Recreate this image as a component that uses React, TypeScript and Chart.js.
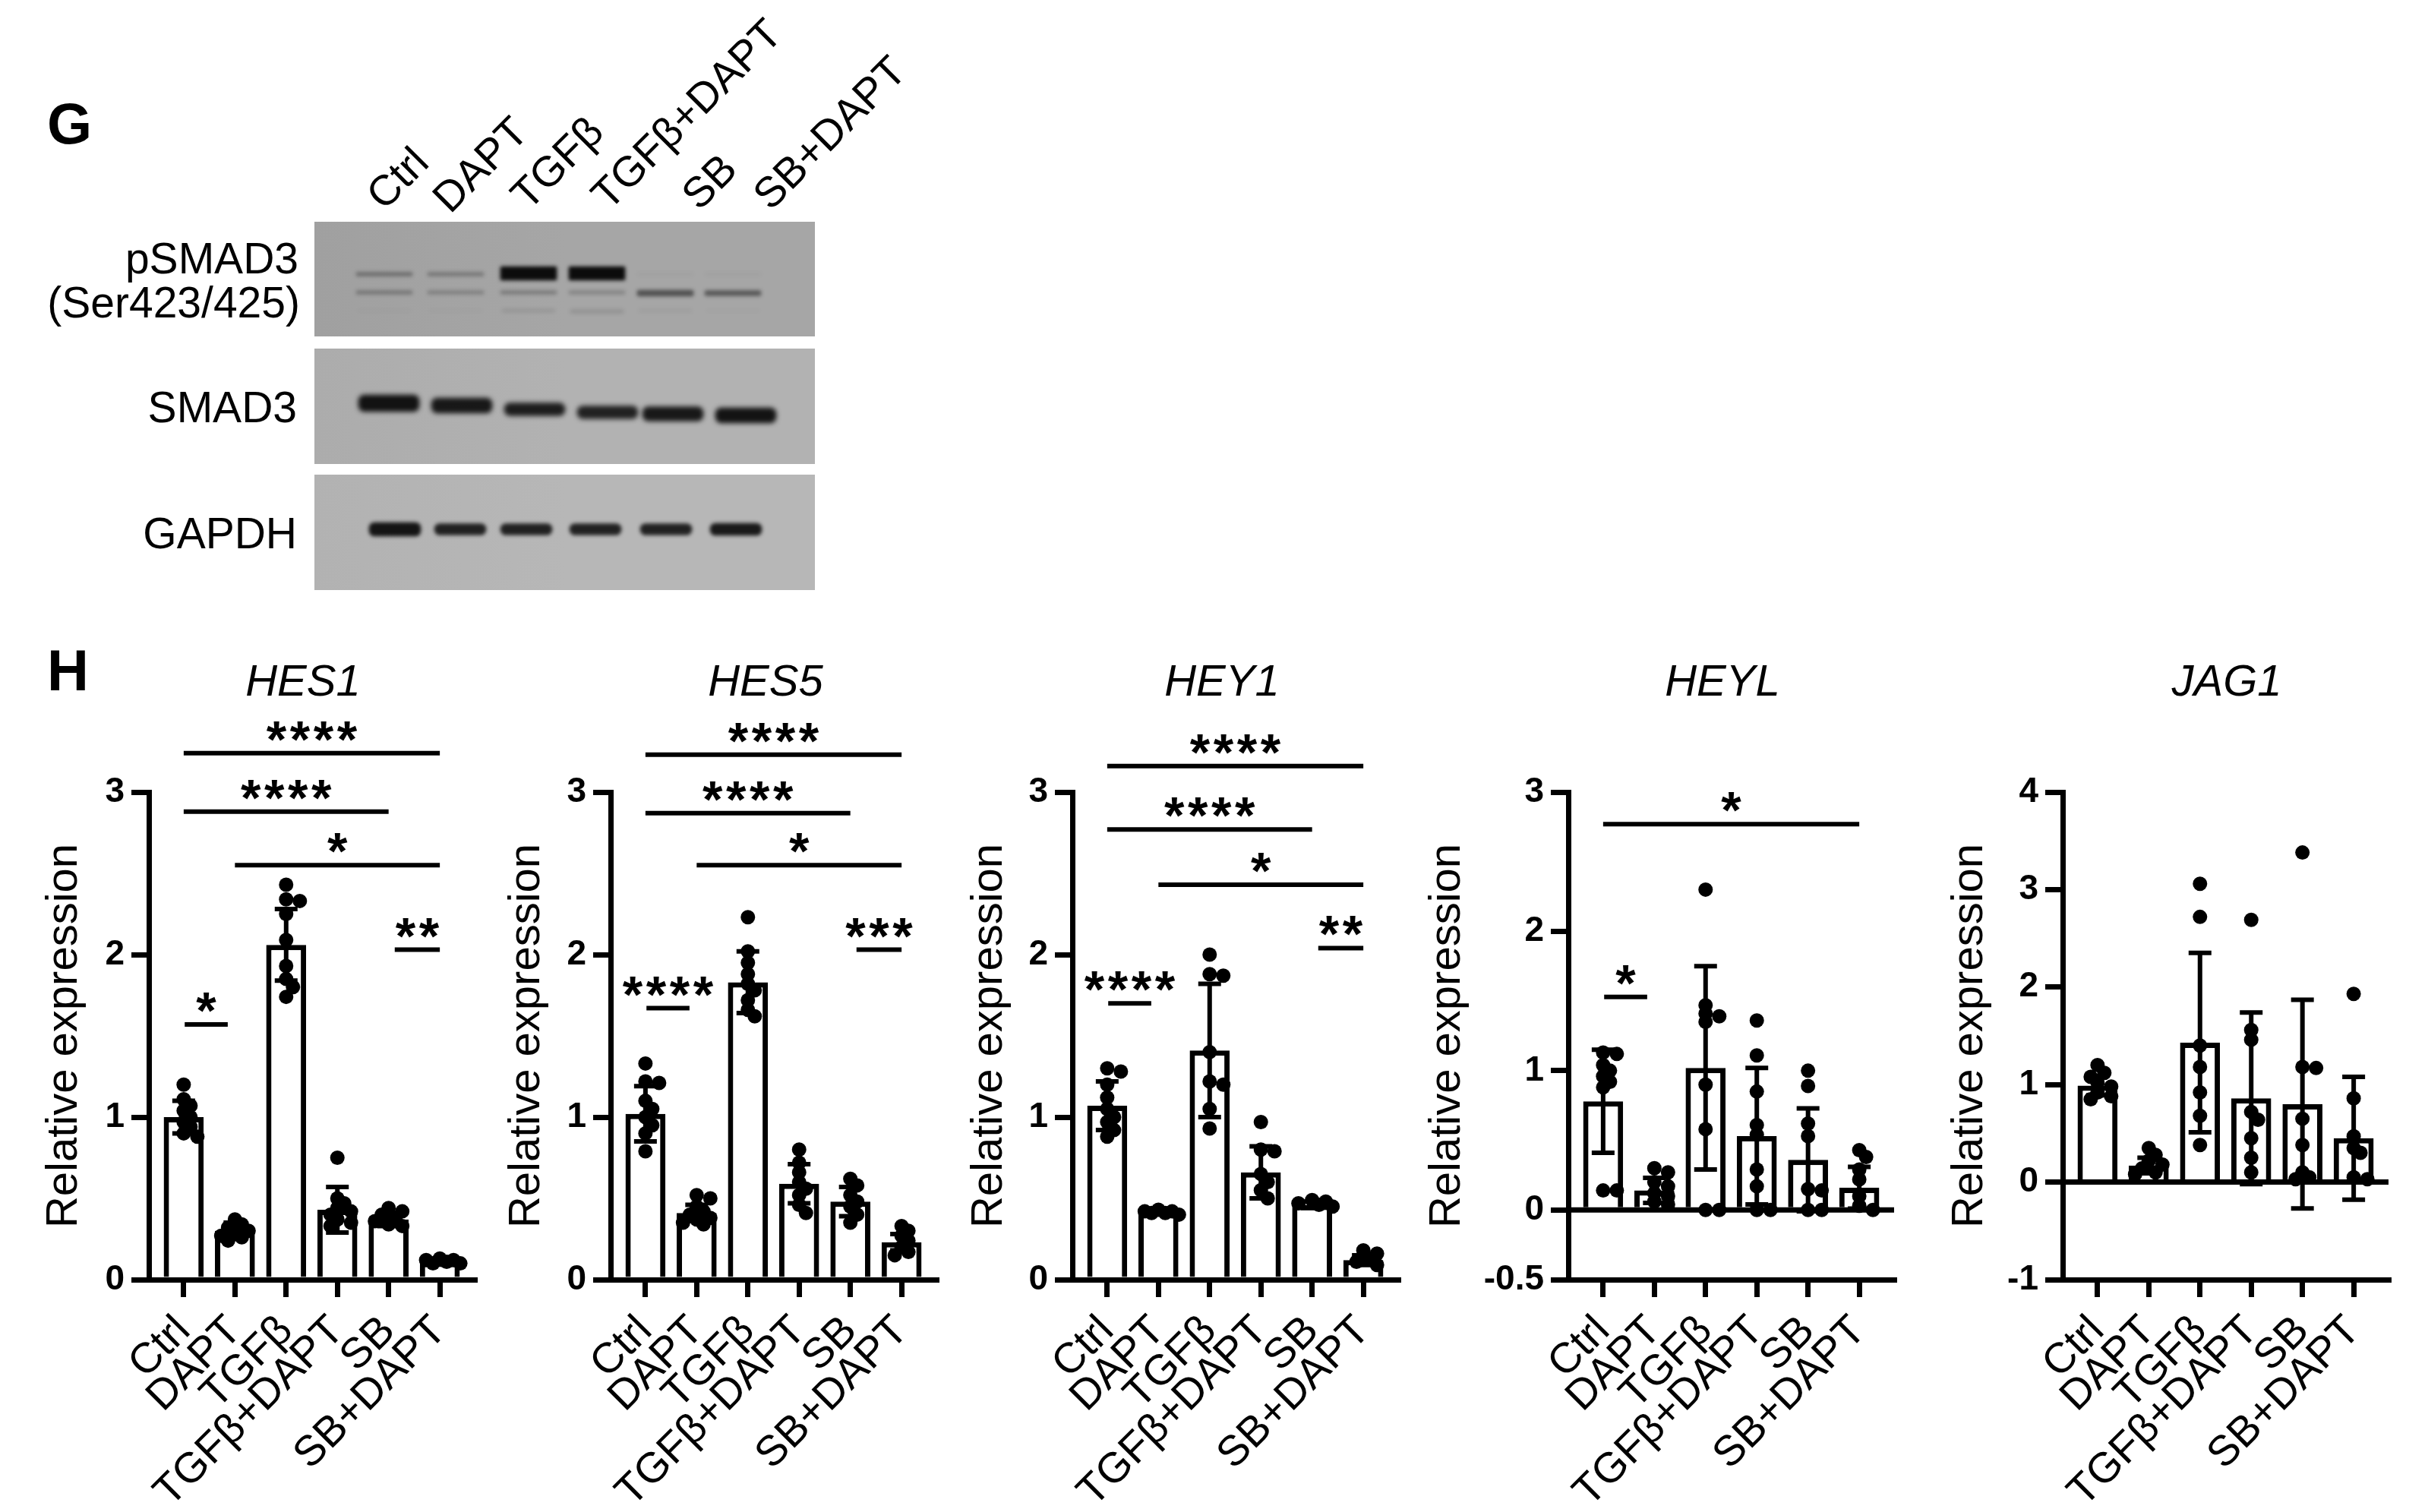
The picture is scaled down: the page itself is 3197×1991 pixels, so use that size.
import React, { useEffect, useRef } from 'react';
import { Chart, registerables } from 'chart.js';

Chart.register(...registerables);

const FONT = '"Liberation Sans", Arial, Helvetica, sans-serif';
Chart.defaults.font.family = FONT;

// ---------------- categories ----------------
const GROUPS = ['Ctrl', 'DAPT', 'TGFβ', 'TGFβ+DAPT', 'SB', 'SB+DAPT'];

// ---------------- H: HES1 ----------------
const hes1Mean = [1.0, 0.3, 2.06, 0.43, 0.37, 0.11];
const hes1Sd = [0.1, 0.05, 0.22, 0.14, 0.04, 0.015];
const hes1Points = [
  [1.2, 1.11, 1.07, 1.04, 1.0, 0.97, 0.94, 0.9, 0.88],
  [0.37, 0.34, 0.32, 0.3, 0.29, 0.27, 0.26, 0.24],
  [2.43, 2.34, 2.33, 2.25, 2.09, 1.93, 1.85, 1.8, 1.74],
  [0.75, 0.5, 0.47, 0.44, 0.42, 0.4, 0.37, 0.35, 0.33],
  [0.44, 0.42, 0.4, 0.38, 0.36, 0.34, 0.33],
  [0.13, 0.12, 0.12, 0.11, 0.1, 0.1],
];
const hes1SigFrom = [0, 0, 1, 4.12, 0.02];
const hes1SigTo = [5, 4, 5, 5, 0.86];
const hes1SigY = [3.24, 2.88, 2.55, 2.03, 1.57];
const hes1SigText = ['****', '****', '*', '**', '*'];
const hes1Ticks = [0, 1, 2, 3];

// ---------------- H: HES5 ----------------
const hes5Mean = [1.02, 0.41, 1.83, 0.59, 0.48, 0.23];
const hes5Sd = [0.17, 0.05, 0.19, 0.12, 0.09, 0.05];
const hes5Points = [
  [1.33, 1.22, 1.21, 1.1, 1.05, 1.0, 0.95, 0.9, 0.79],
  [0.52, 0.5, 0.45, 0.42, 0.4, 0.38, 0.37, 0.35, 0.34],
  [2.23, 2.02, 1.95, 1.88, 1.82, 1.78, 1.72, 1.66, 1.62],
  [0.8, 0.72, 0.66, 0.6, 0.56, 0.52, 0.46, 0.41],
  [0.62, 0.58, 0.52, 0.48, 0.45, 0.4, 0.35],
  [0.33, 0.3, 0.27, 0.24, 0.2, 0.17, 0.15],
];
const hes5SigFrom = [0, 0, 1, 4.12, 0.02];
const hes5SigTo = [5, 4, 5, 5, 0.86];
const hes5SigY = [3.23, 2.87, 2.55, 2.03, 1.67];
const hes5SigText = ['****', '****', '*', '***', '****'];
const hes5Ticks = [0, 1, 2, 3];

// ---------------- H: HEY1 ----------------
const hey1Mean = [1.07, 0.42, 1.41, 0.66, 0.46, 0.12];
const hey1Sd = [0.15, 0.01, 0.41, 0.16, 0.02, 0.03];
const hey1Points = [
  [1.3, 1.28, 1.2, 1.12, 1.05, 1.0, 0.97, 0.92, 0.88],
  [0.43, 0.42, 0.42, 0.41, 0.41, 0.4],
  [2.0, 1.88, 1.87, 1.4, 1.22, 1.2, 1.05, 0.93],
  [0.97, 0.8, 0.79, 0.65, 0.6, 0.55, 0.5],
  [0.49, 0.48, 0.47, 0.46, 0.45],
  [0.18, 0.16, 0.13, 0.11, 0.09],
];
const hey1SigFrom = [0, 0, 1, 4.12, 0.02];
const hey1SigTo = [5, 4, 5, 5, 0.86];
const hey1SigY = [3.16, 2.77, 2.43, 2.04, 1.7];
const hey1SigText = ['****', '****', '*', '**', '****'];
const hey1Ticks = [0, 1, 2, 3];

// ---------------- H: HEYL ----------------
const heylMean = [0.78, 0.14, 1.02, 0.53, 0.36, 0.16];
const heylSd = [0.37, 0.09, 0.73, 0.49, 0.37, 0.15];
const heylPoints = [
  [1.13, 1.12, 1.04, 1.0, 0.96, 0.92, 0.88, 0.14, 0.14],
  [0.3, 0.27, 0.2, 0.17, 0.12, 0.1, 0.06, 0.04],
  [2.3, 1.47, 1.41, 1.39, 1.35, 0.9, 0.58, 0.0, 0.0],
  [1.36, 1.11, 0.85, 0.61, 0.54, 0.29, 0.17, 0.0, 0.0],
  [1.0, 0.89, 0.62, 0.53, 0.15, 0.14, 0.0, 0.0],
  [0.43, 0.38, 0.29, 0.22, 0.1, 0.03, 0.0],
];
const heylSigFrom = [0, 0.02];
const heylSigTo = [5, 0.86];
const heylSigY = [2.77, 1.53];
const heylSigText = ['*', '*'];
const heylTicks = [-0.5, 0, 1, 2, 3];

// ---------------- H: JAG1 ----------------
const jag1Mean = [0.99, 0.17, 1.43, 0.86, 0.8, 0.45];
const jag1Sd = [0.1, 0.08, 0.92, 0.88, 1.07, 0.63];
const jag1Points = [
  [1.2, 1.12, 1.08, 1.02, 0.98, 0.92, 0.88, 0.85],
  [0.35, 0.28, 0.22, 0.18, 0.14, 0.1, 0.08],
  [3.06, 2.72, 1.4, 1.18, 0.92, 0.68, 0.38],
  [2.69, 1.56, 1.46, 0.72, 0.64, 0.45, 0.25, 0.1],
  [3.38, 1.18, 1.17, 0.65, 0.38, 0.1, 0.05, 0.03],
  [1.93, 0.86, 0.47, 0.35, 0.3, 0.05, 0.03],
];
const jag1Ticks = [-1, 0, 1, 2, 3, 4];

// ---------------- G: western blot band intensities ----------------
const pSmadUpper = [0.36, 0.3, 1.0, 1.0, 0.03, 0.03];
const pSmadLower = [0.3, 0.24, 0.28, 0.22, 0.55, 0.5];
const pSmadMinor = [0.02, 0.02, 0.1, 0.13, 0.05, 0.02];
const smad3Band = [0.97, 0.93, 0.9, 0.88, 0.93, 0.96];
const gapdhBand = [0.95, 0.88, 0.88, 0.88, 0.88, 0.92];

// ---------------- layout ----------------
const CANVAS_TOP = 900;
const PLOT_TOP = 1043;
const PLOT_BOTTOM = 1685;
const PAGE_H = 1991;
const PLOT_W = 429;
const RIGHT_PAD = 40;
const X_MIN = -0.68;
const X_MAX = 5.68;
const DOT_R = 9.5;
const LINE_W = 7;

type GenePanel = {
  name: string;
  mean: number[];
  sd: number[];
  points: number[][];
  yMin: number;
  yMax: number;
  yTicks: number[];
  sigFrom: number[];
  sigTo: number[];
  sigY: number[];
  sigText: string[];
  zeroLine: boolean;
  axisX: number;
  yW: number;
  titleX: number;
};

const PANELS: GenePanel[] = [
  { name: 'HES1', mean: hes1Mean, sd: hes1Sd, points: hes1Points, yMin: 0, yMax: 3, yTicks: hes1Ticks,
    sigFrom: hes1SigFrom, sigTo: hes1SigTo, sigY: hes1SigY, sigText: hes1SigText, zeroLine: false,
    axisX: 196, yW: 146, titleX: 399 },
  { name: 'HES5', mean: hes5Mean, sd: hes5Sd, points: hes5Points, yMin: 0, yMax: 3, yTicks: hes5Ticks,
    sigFrom: hes5SigFrom, sigTo: hes5SigTo, sigY: hes5SigY, sigText: hes5SigText, zeroLine: false,
    axisX: 804, yW: 145, titleX: 1008 },
  { name: 'HEY1', mean: hey1Mean, sd: hey1Sd, points: hey1Points, yMin: 0, yMax: 3, yTicks: hey1Ticks,
    sigFrom: hey1SigFrom, sigTo: hey1SigTo, sigY: hey1SigY, sigText: hey1SigText, zeroLine: false,
    axisX: 1412, yW: 144, titleX: 1609 },
  { name: 'HEYL', mean: heylMean, sd: heylSd, points: heylPoints, yMin: -0.5, yMax: 3, yTicks: heylTicks,
    sigFrom: heylSigFrom, sigTo: heylSigTo, sigY: heylSigY, sigText: heylSigText, zeroLine: true,
    axisX: 2065, yW: 194, titleX: 2268 },
  { name: 'JAG1', mean: jag1Mean, sd: jag1Sd, points: jag1Points, yMin: -1, yMax: 4, yTicks: jag1Ticks,
    sigFrom: [], sigTo: [], sigY: [], sigText: [], zeroLine: true,
    axisX: 2716, yW: 157, titleX: 2932 },
];

// deterministic dot layout (GraphPad-like overlapping scatter) in pixel space
function swarm(vals: number[], pyu: number, pxu: number): number[] {
  const step = 9;
  const minDist = 11;
  const placed: { x: number; y: number }[] = [];
  const out: number[] = [];
  for (const v of vals) {
    const y = v * pyu;
    let chosen = 0;
    let bestScore = -1;
    for (let k = 0; k < 7; k++) {
      const cand = k === 0 ? 0 : (k % 2 ? 1 : -1) * Math.ceil(k / 2) * step;
      let md = Infinity;
      for (const p of placed) md = Math.min(md, Math.hypot(p.x - cand, p.y - y));
      if (md >= minDist) {
        chosen = cand;
        bestScore = Infinity;
        break;
      }
      if (md > bestScore) {
        bestScore = md;
        chosen = cand;
      }
    }
    placed.push({ x: chosen, y });
    out.push(chosen / pxu);
  }
  return out;
}

function GeneChart({ p }: { p: GenePanel }) {
  const ref = useRef<HTMLCanvasElement>(null);
  const width = p.yW + PLOT_W + RIGHT_PAD;
  const height = PAGE_H - CANVAS_TOP;

  useEffect(() => {
    const pyu = (PLOT_BOTTOM - PLOT_TOP) / (p.yMax - p.yMin);
    const pxu = PLOT_W / (X_MAX - X_MIN);
    const scatter: { x: number; y: number }[] = [];
    p.points.forEach((vals, i) => {
      const offs = swarm(vals, pyu, pxu);
      vals.forEach((v, k) => scatter.push({ x: i + offs[k], y: v }));
    });

    const deco = {
      id: 'deco',
      afterDatasetDraw(chart: any, args: any) {
        if (args.meta.type !== 'bar') return;
        const { ctx, chartArea, scales } = chart;
        const xs = scales.x;
        const ys = scales.y;
        ctx.save();
        ctx.strokeStyle = '#000';
        ctx.lineCap = 'butt';
        if (p.zeroLine) {
          const y0 = ys.getPixelForValue(0);
          ctx.lineWidth = LINE_W;
          ctx.beginPath();
          ctx.moveTo(chartArea.left, y0);
          ctx.lineTo(chartArea.right, y0);
          ctx.stroke();
        }
        ctx.lineWidth = 6;
        p.mean.forEach((m, i) => {
          const x = xs.getPixelForValue(i);
          const yt = ys.getPixelForValue(m + p.sd[i]);
          const yb = ys.getPixelForValue(m - p.sd[i]);
          ctx.beginPath();
          ctx.moveTo(x, yt);
          ctx.lineTo(x, yb);
          ctx.moveTo(x - 15, yt);
          ctx.lineTo(x + 15, yt);
          ctx.moveTo(x - 15, yb);
          ctx.lineTo(x + 15, yb);
          ctx.stroke();
        });
        ctx.restore();
      },
      afterDraw(chart: any) {
        const { ctx, scales } = chart;
        const xs = scales.x;
        const ys = scales.y;
        ctx.save();
        ctx.strokeStyle = '#000';
        ctx.fillStyle = '#000';
        ctx.lineWidth = 6;
        ctx.font = `bold 68px ${FONT}`;
        ctx.textAlign = 'center';
        ctx.textBaseline = 'alphabetic';
        p.sigY.forEach((sy, k) => {
          const x1 = xs.getPixelForValue(p.sigFrom[k]);
          const x2 = xs.getPixelForValue(p.sigTo[k]);
          const y = ys.getPixelForValue(sy);
          ctx.beginPath();
          ctx.moveTo(x1, y);
          ctx.lineTo(x2, y);
          ctx.stroke();
          const txt = p.sigText[k];
          const n = txt.length;
          const cx = (x1 + x2) / 2;
          for (let j = 0; j < n; j++) {
            ctx.fillText('*', cx + (j - (n - 1) / 2) * 31, y + 5);
          }
        });
        ctx.restore();
      },
    };

    const chart = new Chart(ref.current as HTMLCanvasElement, {
      type: 'bar',
      data: {
        datasets: [
          {
            type: 'bar',
            data: p.mean.map((m, i) => ({ x: i, y: m })),
            backgroundColor: '#ffffff',
            borderColor: '#000000',
            borderWidth: 7,
            barPercentage: 0.78,
            categoryPercentage: 1,
            order: 2,
          } as any,
          {
            type: 'scatter',
            data: scatter,
            pointRadius: DOT_R,
            pointHoverRadius: DOT_R,
            backgroundColor: '#000000',
            borderWidth: 0,
            order: 1,
            clip: false,
          } as any,
        ],
      },
      options: {
        animation: false,
        responsive: false,
        devicePixelRatio: 1,
        events: [],
        layout: { padding: { top: PLOT_TOP - CANVAS_TOP, right: RIGHT_PAD, left: 0, bottom: 0 } },
        plugins: { legend: { display: false }, tooltip: { enabled: false }, title: { display: false } },
        scales: {
          x: {
            type: 'linear',
            min: X_MIN,
            max: X_MAX,
            offset: false,
            z: 1,
            afterBuildTicks: (s: any) => {
              s.ticks = GROUPS.map((_, i) => ({ value: i }));
            },
            afterFit: (s: any) => {
              s.height = PAGE_H - PLOT_BOTTOM;
            },
            ticks: {
              autoSkip: false,
              minRotation: 45,
              maxRotation: 45,
              padding: 16,
              color: '#000',
              font: { family: FONT, size: 56, lineHeight: 1 },
              callback: (v: any) => GROUPS[v] ?? '',
            },
            grid: { display: true, offset: false, drawOnChartArea: false, drawTicks: true, tickLength: 23, lineWidth: LINE_W, color: '#000' },
            border: { display: true, width: LINE_W, color: '#000' },
          },
          y: {
            type: 'linear',
            min: p.yMin,
            max: p.yMax,
            z: 1,
            afterBuildTicks: (s: any) => {
              s.ticks = p.yTicks.map((v) => ({ value: v }));
            },
            afterFit: (s: any) => {
              s.width = p.yW;
            },
            ticks: { padding: 9, color: '#000', font: { family: FONT, size: 46, weight: 'bold' }, callback: (v: any) => String(v) },
            grid: { display: true, drawOnChartArea: false, drawTicks: true, tickLength: 23, lineWidth: LINE_W, color: '#000' },
            border: { display: true, width: LINE_W, color: '#000' },
            title: { display: true, text: 'Relative expression', color: '#000', font: { family: FONT, size: 58, lineHeight: 1.2 }, padding: 0 },
          },
        },
      } as any,
      plugins: [deco],
    });
    return () => chart.destroy();
  }, [p]);

  return (
    <canvas
      ref={ref}
      width={width}
      height={height}
      style={{ position: 'absolute', left: p.axisX - p.yW, top: CANVAS_TOP, width, height }}
    />
  );
}

// ---------------- western blot (panel G) ----------------
type Band = { x: number[]; yc: number[]; h: number[]; alpha: number[]; w: number };
type BlotRowSpec = { top: number; height: number; bg: string; bgL: string; blur: number; bands: Band[] };

const BLOT_LEFT = 414;
const BLOT_RIGHT = 1073;
const pLaneX = [506, 600, 696, 786, 876, 965];
const sLaneX = [512, 608, 704, 800, 886, 982];
const gLaneX = [520, 606, 693, 784, 877, 969];

const BLOT_ROWS: BlotRowSpec[] = [
  {
    top: 292, height: 151, bg: '#a6a6a6', bgL: '#a0a0a0', blur: 2.6,
    bands: [
      { x: pLaneX, yc: [69, 69, 68, 68, 69, 69], h: [5, 5, 18, 18, 4, 4], alpha: pSmadUpper, w: 74 },
      { x: pLaneX, yc: [93, 93, 93, 93, 94, 94], h: [5, 5, 5, 5, 8, 7], alpha: pSmadLower, w: 74 },
      { x: pLaneX, yc: [117, 117, 117, 118, 117, 117], h: [4, 4, 4, 5, 4, 4], alpha: pSmadMinor, w: 70 },
    ],
  },
  {
    top: 459, height: 152, bg: '#b2b2b2', bgL: '#acacac', blur: 3,
    bands: [{ x: sLaneX, yc: [72, 75, 80, 84, 86, 88], h: [22, 20, 17, 17, 19, 20], alpha: smad3Band, w: 80 }],
  },
  {
    top: 625, height: 152, bg: '#b7b7b7', bgL: '#b2b2b2', blur: 2.6,
    bands: [{ x: gLaneX, yc: [72, 72, 72, 72, 72, 72], h: [18, 15, 15, 15, 15, 16], alpha: gapdhBand, w: 68 }],
  },
];

function BlotRow({ spec }: { spec: BlotRowSpec }) {
  const ref = useRef<HTMLCanvasElement>(null);
  const width = BLOT_RIGHT - BLOT_LEFT;
  useEffect(() => {
    const look = {
      id: 'look',
      beforeDraw(chart: any) {
        const { ctx } = chart;
        ctx.save();
        const g = ctx.createLinearGradient(0, 0, width, 0);
        g.addColorStop(0, spec.bgL);
        g.addColorStop(0.5, spec.bg);
        g.addColorStop(1, spec.bg);
        ctx.fillStyle = g;
        ctx.fillRect(0, 0, width, spec.height);
        ctx.restore();
      },
      beforeDatasetsDraw(chart: any) {
        chart.ctx.save();
        chart.ctx.filter = `blur(${spec.blur}px)`;
      },
      afterDatasetsDraw(chart: any) {
        chart.ctx.restore();
      },
    };
    const chart = new Chart(ref.current as HTMLCanvasElement, {
      type: 'bar',
      data: {
        datasets: spec.bands.map((b) => ({
          data: b.x.map((x, i) => ({ x: x - BLOT_LEFT, y: [b.yc[i] - b.h[i] / 2, b.yc[i] + b.h[i] / 2] })),
          backgroundColor: b.alpha.map((a) => `rgba(12,12,12,${a})`),
          barThickness: b.w,
          borderRadius: Math.min(8, Math.min(...b.h) / 2),
          borderSkipped: false,
          borderWidth: 0,
          grouped: false,
        })) as any,
      },
      options: {
        animation: false,
        responsive: false,
        devicePixelRatio: 1,
        events: [],
        layout: { padding: 0 },
        plugins: { legend: { display: false }, tooltip: { enabled: false } },
        scales: {
          x: { type: 'linear', display: false, min: 0, max: width, offset: false },
          y: { type: 'linear', display: false, min: 0, max: spec.height, reverse: true },
        },
      } as any,
      plugins: [look],
    });
    return () => chart.destroy();
  }, [spec]);
  return (
    <canvas
      ref={ref}
      width={width}
      height={spec.height}
      style={{ position: 'absolute', left: BLOT_LEFT, top: spec.top, width, height: spec.height }}
    />
  );
}

// text helpers (baseline-positioned)
const BASE = 0.8465;

const rowLabels = [
  { text: 'pSMAD3', right: 393, baseline: 360 },
  { text: '(Ser423/425)', right: 395, baseline: 418 },
  { text: 'SMAD3', right: 391, baseline: 556 },
  { text: 'GAPDH', right: 391, baseline: 722 },
];
const laneLabelPos = [
  [506, 279],
  [593, 283],
  [696, 279],
  [802, 279],
  [921, 279],
  [1015, 279],
];

export default function App() {
  const txt: React.CSSProperties = { position: 'absolute', fontFamily: FONT, color: '#000', whiteSpace: 'nowrap' };
  return (
    <div style={{ position: 'absolute', left: 0, top: 0, width: 3197, height: 1991, background: '#fff', overflow: 'hidden' }}>
      {BLOT_ROWS.map((r, i) => (
        <BlotRow key={i} spec={r} />
      ))}
      {PANELS.map((p) => (
        <GeneChart key={p.name} p={p} />
      ))}

      <div style={{ ...txt, left: 62, top: 189 - BASE * 76, fontSize: 76, lineHeight: '76px', fontWeight: 'bold' }}>G</div>
      <div style={{ ...txt, left: 62, top: 909 - BASE * 76, fontSize: 76, lineHeight: '76px', fontWeight: 'bold' }}>H</div>

      {rowLabels.map((r) => (
        <div
          key={r.text}
          style={{ ...txt, left: r.right - 600, width: 600, textAlign: 'right', top: r.baseline - BASE * 57, fontSize: 57, lineHeight: '57px' }}
        >
          {r.text}
        </div>
      ))}

      {GROUPS.map((g, i) => (
        <div
          key={g}
          style={{
            ...txt,
            left: laneLabelPos[i][0] + 6,
            top: laneLabelPos[i][1] + 6 - 56,
            fontSize: 56,
            lineHeight: '56px',
            transform: 'rotate(-45deg)',
            transformOrigin: '0 100%',
          }}
        >
          {g}
        </div>
      ))}

      {PANELS.map((p) => (
        <div
          key={'t' + p.name}
          style={{ ...txt, left: p.titleX - 200, width: 400, textAlign: 'center', top: 916 - BASE * 58, fontSize: 58, lineHeight: '58px', fontStyle: 'italic' }}
        >
          {p.name}
        </div>
      ))}
    </div>
  );
}
